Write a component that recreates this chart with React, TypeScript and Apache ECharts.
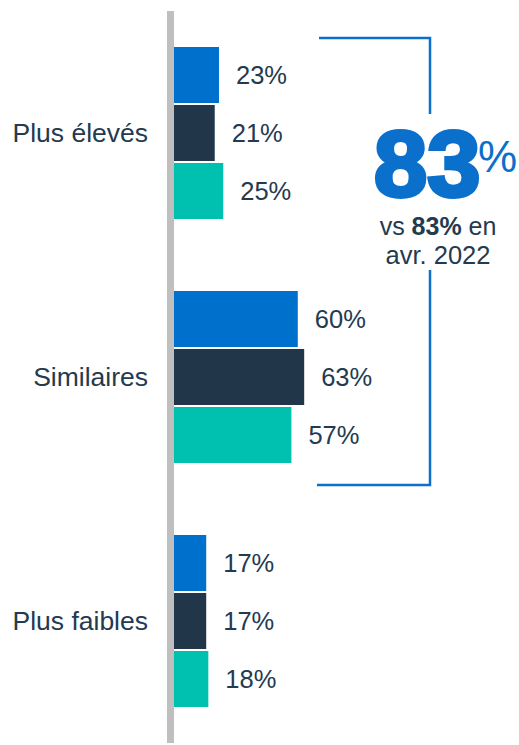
import React, { useEffect, useRef } from "react";
import * as echarts from "echarts";

const categories = ["Plus élevés", "Similaires", "Plus faibles"];
const seriesNames = ["Vague 1", "Vague 2", "Vague 3"];
const valuesA = [23, 60, 17];
const valuesB = [21, 63, 17];
const valuesC = [25, 57, 18];
const highlightValue = "83";
const compareText = "83%";
const compareDate = "avr. 2022";

const FONT = "'Liberation Sans', Arial, sans-serif";
const TEXT = "#243A4F";
const COLORS = ["#0070CD", "#223649", "#00C0B0"];
const BLUE = "#0A70CC";

export default function App() {
  const ref = useRef<HTMLDivElement>(null);
  useEffect(() => {
    document.body.style.margin = "0";
    const chart = echarts.init(ref.current!, null, { renderer: "svg" });
    const data = [valuesA, valuesB, valuesC];
    const option: any = {
      animation: false,
      grid: { left: 170, right: 136, top: 11, bottom: 2, containLabel: false },
      xAxis: { type: "value", min: 0, max: 100, show: false },
      yAxis: {
        type: "category",
        data: categories,
        inverse: true,
        z: 10,
        axisLine: { show: true, lineStyle: { color: "#BFBFBF", width: 7, cap: "butt" } },
        axisTick: { show: false },
        axisLabel: { fontSize: 26.5, color: TEXT, fontFamily: FONT, margin: 22 },
        splitLine: { show: false },
      },
      series: data.map((vals, i) => ({
        name: seriesNames[i],
        type: "bar",
        data: vals,
        barWidth: 56,
        barGap: "3.6%",
        itemStyle: { color: COLORS[i] },
        label: {
          show: true,
          position: "right",
          distance: 17,
          formatter: "{c}%",
          fontSize: 25.5,
          color: TEXT,
          fontFamily: FONT,
        },
      })),
      graphic: [
        {
          type: "polyline",
          shape: { points: [[319, 38], [430, 38], [430, 114]] },
          style: { stroke: BLUE, lineWidth: 2.5, fill: null },
        },
        {
          type: "polyline",
          shape: { points: [[430, 270], [430, 485], [317, 485]] },
          style: { stroke: BLUE, lineWidth: 2.5, fill: null },
        },
        {
          type: "text",
          x: 374,
          y: 164,
          scaleX: 1.04,
          style: {
            text: highlightValue,
            fontSize: 92,
            lineHeight: 70,
            fontWeight: "bold",
            fontFamily: FONT,
            fill: BLUE,
            stroke: BLUE,
            lineWidth: 4,
            textAlign: "left",
            textVerticalAlign: "middle",
          },
        },
        {
          type: "text",
          x: 478,
          y: 156,
          style: {
            text: "%",
            fontSize: 44,
            lineHeight: 40,
            fontFamily: FONT,
            fill: BLUE,
            textAlign: "left",
            textVerticalAlign: "middle",
          },
        },
        {
          type: "text",
          x: 438,
          y: 226,
          style: {
            text: "{r|vs }{b|" + compareText + "}{r| en}",
            textAlign: "center",
            textVerticalAlign: "middle",
            rich: {
              r: { fontSize: 25, lineHeight: 26, fontFamily: FONT, fill: TEXT, color: TEXT },
              b: { fontSize: 25, lineHeight: 26, fontFamily: FONT, fontWeight: "bold", fill: TEXT, color: TEXT },
            },
          },
        },
        {
          type: "text",
          x: 438,
          y: 255,
          style: {
            text: compareDate,
            fontSize: 25.5,
            fontFamily: FONT,
            fill: TEXT,
            textAlign: "center",
            textVerticalAlign: "middle",
          },
        },
      ],
    };
    chart.setOption(option);
    return () => chart.dispose();
  }, []);
  return <div ref={ref} style={{ width: 519, height: 745 }} />;
}
